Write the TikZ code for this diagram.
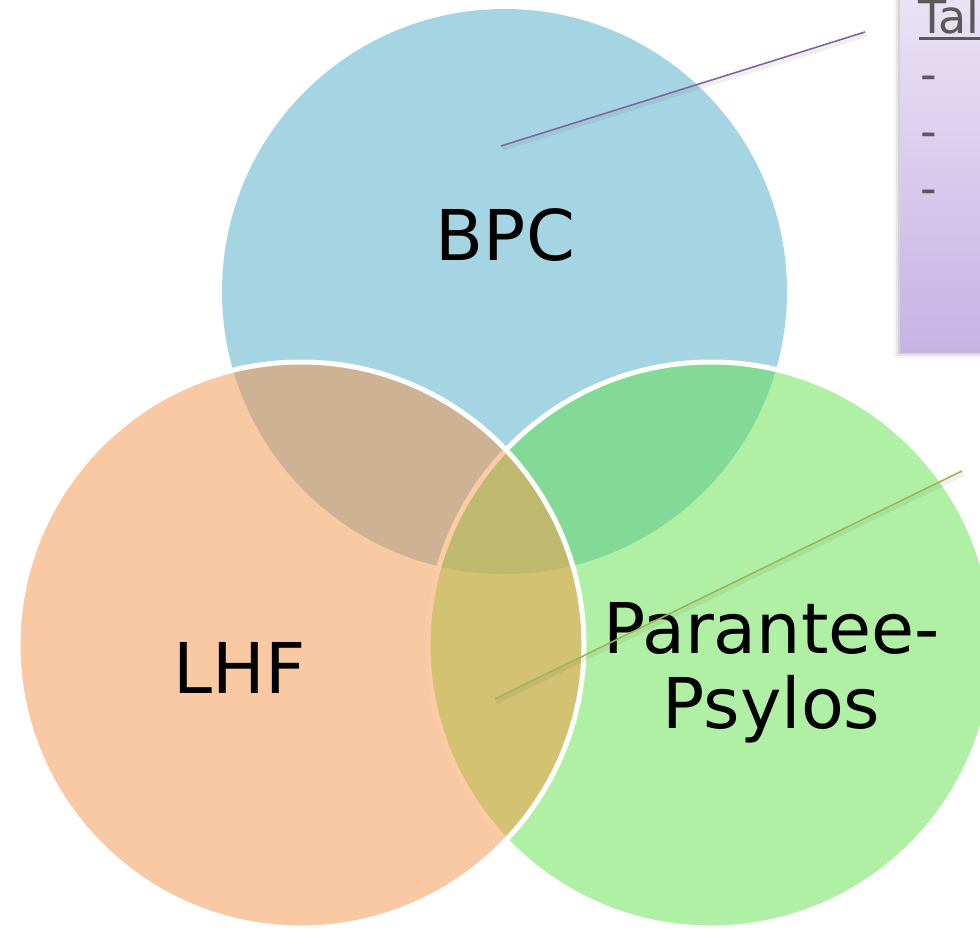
\documentclass[tikz,border=0pt]{standalone}
\usepackage{fontspec}
\setmainfont{DejaVu Sans}
\begin{document}
\begin{tikzpicture}[x=1pt,y=-1pt]
\definecolor{cB}{HTML}{A5D5E2}
\definecolor{cG}{HTML}{B0F0A4}
\definecolor{cL}{HTML}{F9C9A3}
\definecolor{cBG}{HTML}{82DA96}
\definecolor{cBL}{HTML}{CDB394}
\definecolor{cGL}{HTML}{D2C272}
\definecolor{cBGL}{HTML}{BEB96F}
\definecolor{cGstroke}{HTML}{FCCBA6}
\definecolor{cPurple}{HTML}{8064A2}
\definecolor{cOlive}{HTML}{9BB553}
\definecolor{cText}{HTML}{595959}
\definecolor{boxTop}{HTML}{EBE5F5}
\definecolor{boxBot}{HTML}{C6B3E4}
\tikzset{
  lbl/.style={font=\fontsize{70}{75}\selectfont, text=black, inner sep=0pt},
  calltext/.style={font=\fontsize{46}{52}\selectfont, text=cText, inner sep=0pt},
  outline/.style={line width=5pt},
  shadowline/.style={line width=4pt, black, opacity=0.06},
}
\clip (0,0) rectangle (980,929);
\fill[white] (0,0) rectangle (980,929);
% centres
\coordinate (cb) at (504.5,291.5);
\coordinate (cl) at (301,645);
\coordinate (cg) at (711,645);
% BPC
\fill[cB] (cb) circle[radius=282.5pt];
% green
\fill[cG] (cg) circle[radius=283pt];
\begin{scope}
  \clip (cb) circle[radius=282.5pt];
  \fill[cBG] (cg) circle[radius=283pt];
\end{scope}
\draw[white, outline] (cg) circle[radius=283pt];
% LHF
\fill[cL] (cl) circle[radius=283pt];
\begin{scope}
  \clip (cb) circle[radius=282.5pt];
  \fill[cBL] (cl) circle[radius=283pt];
\end{scope}
\begin{scope}
  \clip (cg) circle[radius=283pt];
  \fill[cGL] (cl) circle[radius=283pt];
\end{scope}
\begin{scope}
  \clip (cg) circle[radius=283pt];
  \clip (cb) circle[radius=282.5pt];
  \fill[cBGL] (cl) circle[radius=283pt];
\end{scope}
\begin{scope}
  \clip (cl) circle[radius=283pt];
  \draw[cGstroke, outline] (cg) circle[radius=283pt];
\end{scope}
\draw[white, outline] (cl) circle[radius=283pt];
% labels
\node[lbl, anchor=base] (bpc) at (505.5,260) {BPC};
\node[lbl, anchor=base] (lhf) at (239.5,693) {LHF};
\node[lbl, anchor=base] (pp1) at (771.5,653) {Parantee-};
\node[lbl, anchor=base] (pp2) at (771.5,728) {Psylos};
% callout box with shadow
\foreach \i/\o in {6/0.04,4/0.06,2/0.08}{
  \fill[black, opacity=\o] (900-\i,-20) rectangle (1000,352+\i);
}
\shade[top color=boxTop, bottom color=boxBot] (900,-20) rectangle (1000,352);
\node[calltext, anchor=base west] (ttl) at (918,33) {Tal};
\draw[cText, line width=2.2pt] (919,38.5) -- (985,38.5);
\node[calltext, anchor=base west] (d1) at (920,90) {-};
\node[calltext, anchor=base west] (d2) at (920,147) {-};
\node[calltext, anchor=base west] (d3) at (920,204) {-};
% connectors
\coordinate (pA) at (501,146);
\coordinate (pB) at (865,32);
\coordinate (gA) at (495,699);
\coordinate (gB) at (962,471);
\draw[shadowline] ([shift={(1.5,3)}]pA) -- ([shift={(1.5,3)}]pB);
\draw[cPurple, line width=1.6pt] (pA) -- (pB);
\draw[shadowline] ([shift={(1.5,3)}]gA) -- ([shift={(1.5,3)}]gB);
\draw[cOlive, line width=1.6pt] (gA) -- (gB);
\end{tikzpicture}
\end{document}
